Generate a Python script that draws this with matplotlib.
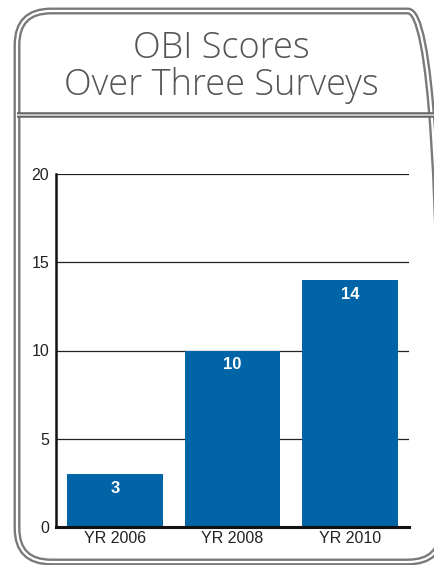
import matplotlib
matplotlib.use("Agg")
import matplotlib.pyplot as plt
from matplotlib.patches import FancyBboxPatch
from matplotlib.transforms import IdentityTransform
from matplotlib.lines import Line2D

# chart data
categories = ["YR 2006", "YR 2008", "YR 2010"]
scores = [3, 10, 14]
yticks = [0, 5, 10, 15, 20]
title = "OBI Scores\nOver Three Surveys"

W, H = 435, 565
bar_color = "#0064a7"

fig = plt.figure(figsize=(W / 100, H / 100), dpi=100)

# rounded double frame, in pixels (y measured from top of image)
left, top, right, bottom = 17, 11, 442, 562
for lw, col in [(5.0, "#7a7a7a"), (1.6, "white")]:
    box = FancyBboxPatch((left, H - bottom), right - left, bottom - top,
                         boxstyle="round,pad=0,rounding_size=34",
                         transform=IdentityTransform(), fill=False,
                         edgecolor=col, linewidth=lw, clip_on=False)
    fig.patches.append(box)
for lw, col in [(4.0, "#666666"), (1.2, "#d8d8d8")]:
    fig.lines.append(Line2D([left, W + 10], [H - 115] * 2, transform=IdentityTransform(),
                            color=col, linewidth=lw, solid_capstyle="butt"))

fig.text(221 / W, 1 - 67 / H, title, ha="center", va="center",
         fontsize=26, color="#555555", family="Open Sans", fontweight="light",
         linespacing=0.98)

ax = fig.add_axes([56 / W, 1 - 527 / H, 353 / W, (527 - 174) / H])
x = range(len(categories))
bars = ax.bar(x, scores, width=0.815, color=bar_color, zorder=3)
ax.set_xlim(-0.5, 2.5)
ax.set_ylim(0, 20)
ax.set_yticks(yticks)
ax.set_xticks(list(x))
ax.set_xticklabels(categories)
for t in yticks[1:]:
    ax.axhline(t, color="#222222", linewidth=0.9, zorder=1)

for s in ["top", "right"]:
    ax.spines[s].set_visible(False)
ax.spines["left"].set_linewidth(1.8)
ax.spines["left"].set_color("#111111")
ax.spines["bottom"].set_linewidth(2.2)
ax.spines["bottom"].set_color("#111111")
ax.spines["left"].set_zorder(4)
ax.spines["bottom"].set_zorder(4)
ax.tick_params(length=0, labelsize=11.5, colors="#222222", pad=5)
ax.tick_params(axis="x", pad=3)
for lab in ax.get_xticklabels() + ax.get_yticklabels():
    lab.set_family("Liberation Sans")

for b, v in zip(bars, scores):
    ax.text(b.get_x() + b.get_width() / 2, v - 0.8, str(v), ha="center", va="center",
            color="white", fontsize=12, fontweight="bold", family="Liberation Sans", zorder=5)

fig.savefig("out.png", dpi=100)
